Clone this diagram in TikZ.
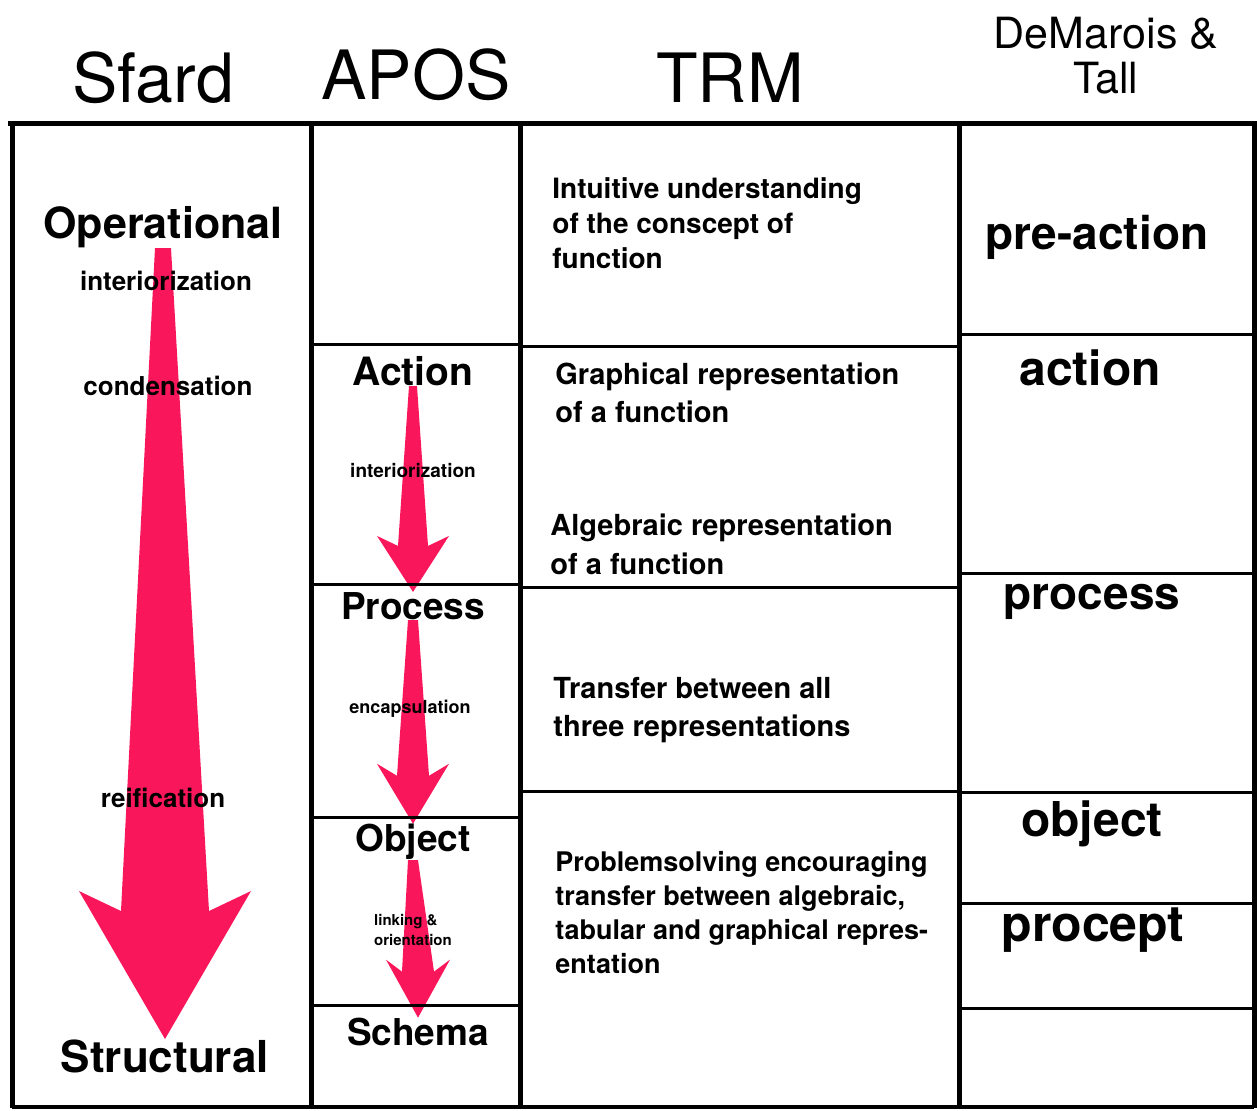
\documentclass[tikz,border=0pt]{standalone}
\usepackage{fontspec}
\setmainfont{TeX Gyre Heros}
\usepackage{tikz}
\usetikzlibrary{calc}
\usepackage{xcolor}
\definecolor{arrowpink}{RGB}{250,22,90}
\pgfdeclarelayer{background}
\pgfsetlayers{background,main}

% from, to, tail half width, shaft half width, wing half width, head length, wing lift
\newcommand{\taperarrow}[7]{%
  \fill[arrowpink] let \p1=(#1), \p2=(#2) in
    (\x1-#3,\y1) -- (\x1+#3,\y1) -- (\x2+#4,\y2+#6) -- (\x2+#5,\y2+#6+#7)
    -- (\x2,\y2) -- (\x2-#5,\y2+#6+#7) -- (\x2-#4,\y2+#6) -- cycle;}

\begin{document}
\begin{tikzpicture}[x=0.5pt, y=-0.5pt,
    headtxt/.style={inner sep=0pt, font=\fontsize{34}{40}\selectfont},
    sfardbig/.style={inner sep=0pt, font=\bfseries\fontsize{21.5}{25}\selectfont},
    sfardstep/.style={inner sep=0pt, font=\bfseries\fontsize{13}{16}\selectfont},
    stage/.style={inner sep=0pt, font=\bfseries\fontsize{18.5}{22}\selectfont},
    tinystep/.style={inner sep=0pt, font=\bfseries\fontsize{9.5}{11}\selectfont},
    trmtxt/.style={inner sep=0pt, anchor=north west, align=left, font=\bfseries\fontsize{14.5}{19}\selectfont},
    dmtxt/.style={inner sep=0pt, font=\bfseries\fontsize{24}{28}\selectfont},
    frame/.style={line width=2.5pt},
    rowline/.style={line width=1.5pt}]
    \useasboundingbox (0,0) rectangle (1257,1111);

    % table
    \draw[frame] (8,124) -- (1257,124);
    \foreach \x in {12,311,520,959,1254}
        \draw[frame] (\x,124) -- (\x,1108);
    \draw[line width=2pt] (12,1107) -- (1254,1107);
    \foreach \y in {345,585,817,1005}
        \draw[rowline] (311,\y) -- (520,\y);
    \foreach \y in {347,588,791}
        \draw[rowline] (520,\y) -- (959,\y);
    \foreach \y in {335,574,792,903,1008}
        \draw[rowline] (959,\y) -- (1254,\y);

    % headers
    \node[headtxt] (sfard) at (153,78) {Sfard};
    \node[headtxt] (apos) at (416,75) {APOS};
    \node[headtxt] (trm) at (730,78) {TRM};
    \node[headtxt, align=center, font=\fontsize{21.5}{22.5}\selectfont] (dmt) at (1106,56) {DeMarois \&\\Tall};

    % Sfard
    \node[sfardbig] (oper) at (163,227) {Operational};
    \node[sfardstep] (sint) at (166,281) {interiorization};
    \node[sfardstep] (cond) at (168,386) {condensation};
    \node[sfardstep] (reif) at (163,798) {reification};
    \node[sfardbig, font=\bfseries\fontsize{22}{26}\selectfont] (struc) at (165,1056) {Structural};

    % APOS
    \node[stage, font=\bfseries\fontsize{19.5}{23}\selectfont] (action) at (413,371) {Action};
    \node[tinystep] (aint) at (413,471) {interiorization};
    \node[stage] (process) at (413,606) {Process};
    \node[tinystep, font=\bfseries\fontsize{9}{11}\selectfont] (encap) at (410,709) {encapsulation};
    \node[stage] (object) at (413,842) {Object};
    \node[tinystep, align=left, font=\bfseries\fontsize{7.5}{10}\selectfont] (link) at (413,930) {linking \&\\orientation};
    \node[stage] (schema) at (418,1032) {Schema};

    % TRM
    \node[trmtxt, font=\bfseries\fontsize{14}{17.5}\selectfont] (intuit) at (552,177) {Intuitive understanding\\of the conscept of\\function};
    \node[trmtxt] (graph) at (555,362) {Graphical representation\\of a function};
    \node[trmtxt, font=\bfseries\fontsize{14.5}{19.5}\selectfont] (algeb) at (550,513) {Algebraic representation\\of a function};
    \node[trmtxt] (transf) at (553,677) {Transfer between all\\three representations};
    \node[trmtxt, font=\bfseries\fontsize{13.5}{17}\selectfont] (probl) at (555,851) {Problemsolving encouraging\\transfer between algebraic,\\tabular and graphical repres-\\entation};

    % DeMarois & Tall
    \node[dmtxt, font=\bfseries\fontsize{23}{27}\selectfont] (preact) at (1097,237) {pre-action};
    \node[dmtxt] (dmact) at (1090,368) {action};
    \node[dmtxt, font=\bfseries\fontsize{23}{27}\selectfont] (dmproc) at (1092,602) {process};
    \node[dmtxt] (dmobj) at (1092,824) {object};
    \node[dmtxt, font=\bfseries\fontsize{25}{29}\selectfont] (dmprocept) at (1093,930) {procept};

    % arrows
    \begin{pgfonlayer}{background}
    \taperarrow{oper.south}{struc.north}{4pt}{22pt}{43pt}{64pt}{10pt}
    \taperarrow{action.south}{process.north}{2pt}{7.5pt}{18pt}{23pt}{5pt}
    \taperarrow{process.south}{object.north}{2.5pt}{8pt}{18pt}{24pt}{6pt}
    \taperarrow{object.south}{schema.north}{2.5pt}{8pt}{16pt}{23pt}{6pt}
    \end{pgfonlayer}
\end{tikzpicture}
\end{document}
